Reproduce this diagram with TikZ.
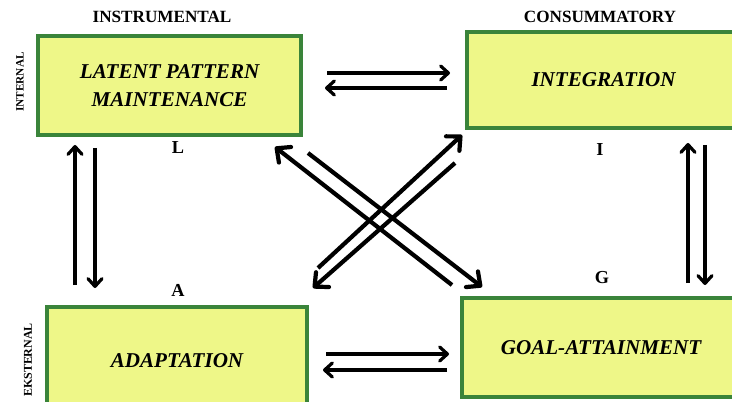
\documentclass[tikz,border=0pt]{standalone}
\usepackage{fontspec}
\setmainfont{Liberation Serif}
\usetikzlibrary{arrows.meta}

\definecolor{boxfill}{RGB}{238,247,136}
\definecolor{boxline}{RGB}{58,132,58}

\begin{document}
\begin{tikzpicture}[box/.style ={draw=boxline,fill=boxfill,line width=2.8pt,align=center,font=\fontsize{15}{20}\selectfont\bfseries\itshape},
lbl/.style ={font=\fontsize{13}{13}\selectfont\bfseries},
arr/.style ={line width=2.3pt,-{Straight Barb[length=5.5pt,width=10pt,line cap=round,line join=round]}},
bigarr/.style ={line width=3pt,-{Straight Barb[length=7.5pt,width=14pt,line cap=round,line join=round]}}]

\useasboundingbox (0,0) rectangle (18.3,-10.05);

%boxes
\node[box,minimum width=6.575cm,minimum height=2.475cm] (L) at (4.24,-2.14) {LATENT PATTERN\\MAINTENANCE};
\node[box,minimum width=6.825cm,minimum height=2.4cm] (I) at (15.09,-2.0) {INTEGRATION};
\node[box,minimum width=6.5cm,minimum height=2.7cm] (A) at (4.425,-9.025) {ADAPTATION};
\node[box,minimum width=6.95cm,minimum height=2.475cm] (G) at (15.025,-8.69) {GOAL-ATTAINMENT};

%headings
\node[font=\fontsize{12.2}{12}\selectfont\bfseries] (instr) at (4.05,-0.425) {INSTRUMENTAL};
\node[font=\fontsize{12.2}{12}\selectfont\bfseries] (cons) at (15.0,-0.425) {CONSUMMATORY};
\node[font=\fontsize{8}{8}\selectfont\bfseries,rotate=90] (int) at (0.5,-2.05) {INTERNAL};
\node[font=\fontsize{8.5}{8.5}\selectfont\bfseries,rotate=90] (eks) at (0.7,-9.0) {EKSTERNAL};

%letters
\node[lbl] (lL) at (4.45,-3.7) {L};
\node[lbl] (lI) at (15.0,-3.75) {I};
\node[lbl] (lA) at (4.45,-7.25) {A};
\node[lbl] (lG) at (15.05,-6.95) {G};

%L <-> I
\coordinate (li1) at (8.175,-1.825);
\coordinate (li2) at (11.25,-1.825);
\coordinate (il1) at (11.175,-2.2);
\coordinate (il2) at (8.125,-2.2);
\draw[arr] (li1) -- (li2);
\draw[arr] (il1) -- (il2);

%A <-> G
\coordinate (ag1) at (8.15,-8.85);
\coordinate (ag2) at (11.225,-8.85);
\coordinate (ga1) at (11.175,-9.25);
\coordinate (ga2) at (8.075,-9.25);
\draw[arr] (ag1) -- (ag2);
\draw[arr] (ga1) -- (ga2);

%L <-> A
\coordinate (al1) at (1.875,-7.125);
\coordinate (al2) at (1.875,-3.625);
\coordinate (la1) at (2.375,-3.7);
\coordinate (la2) at (2.375,-7.2);
\draw[arr] (al1) -- (al2);
\draw[arr] (la1) -- (la2);

%I <-> G
\coordinate (gi1) at (17.2,-7.075);
\coordinate (gi2) at (17.2,-3.575);
\coordinate (ig1) at (17.625,-3.625);
\coordinate (ig2) at (17.625,-7.125);
\draw[arr] (gi1) -- (gi2);
\draw[arr] (ig1) -- (ig2);

%L <-> G
\coordinate (gl1) at (11.3,-7.125);
\coordinate (gl2) at (6.875,-3.675);
\coordinate (lg1) at (7.7,-3.825);
\coordinate (lg2) at (12.05,-7.175);
\draw[bigarr] (gl1) -- (gl2);
\draw[bigarr] (lg1) -- (lg2);

%A <-> I
\coordinate (ai1) at (7.95,-6.7);
\coordinate (ai2) at (11.55,-3.375);
\coordinate (ia1) at (11.375,-4.075);
\coordinate (ia2) at (7.825,-7.2);
\draw[bigarr] (ai1) -- (ai2);
\draw[bigarr] (ia1) -- (ia2);

\end{tikzpicture}
\end{document}
